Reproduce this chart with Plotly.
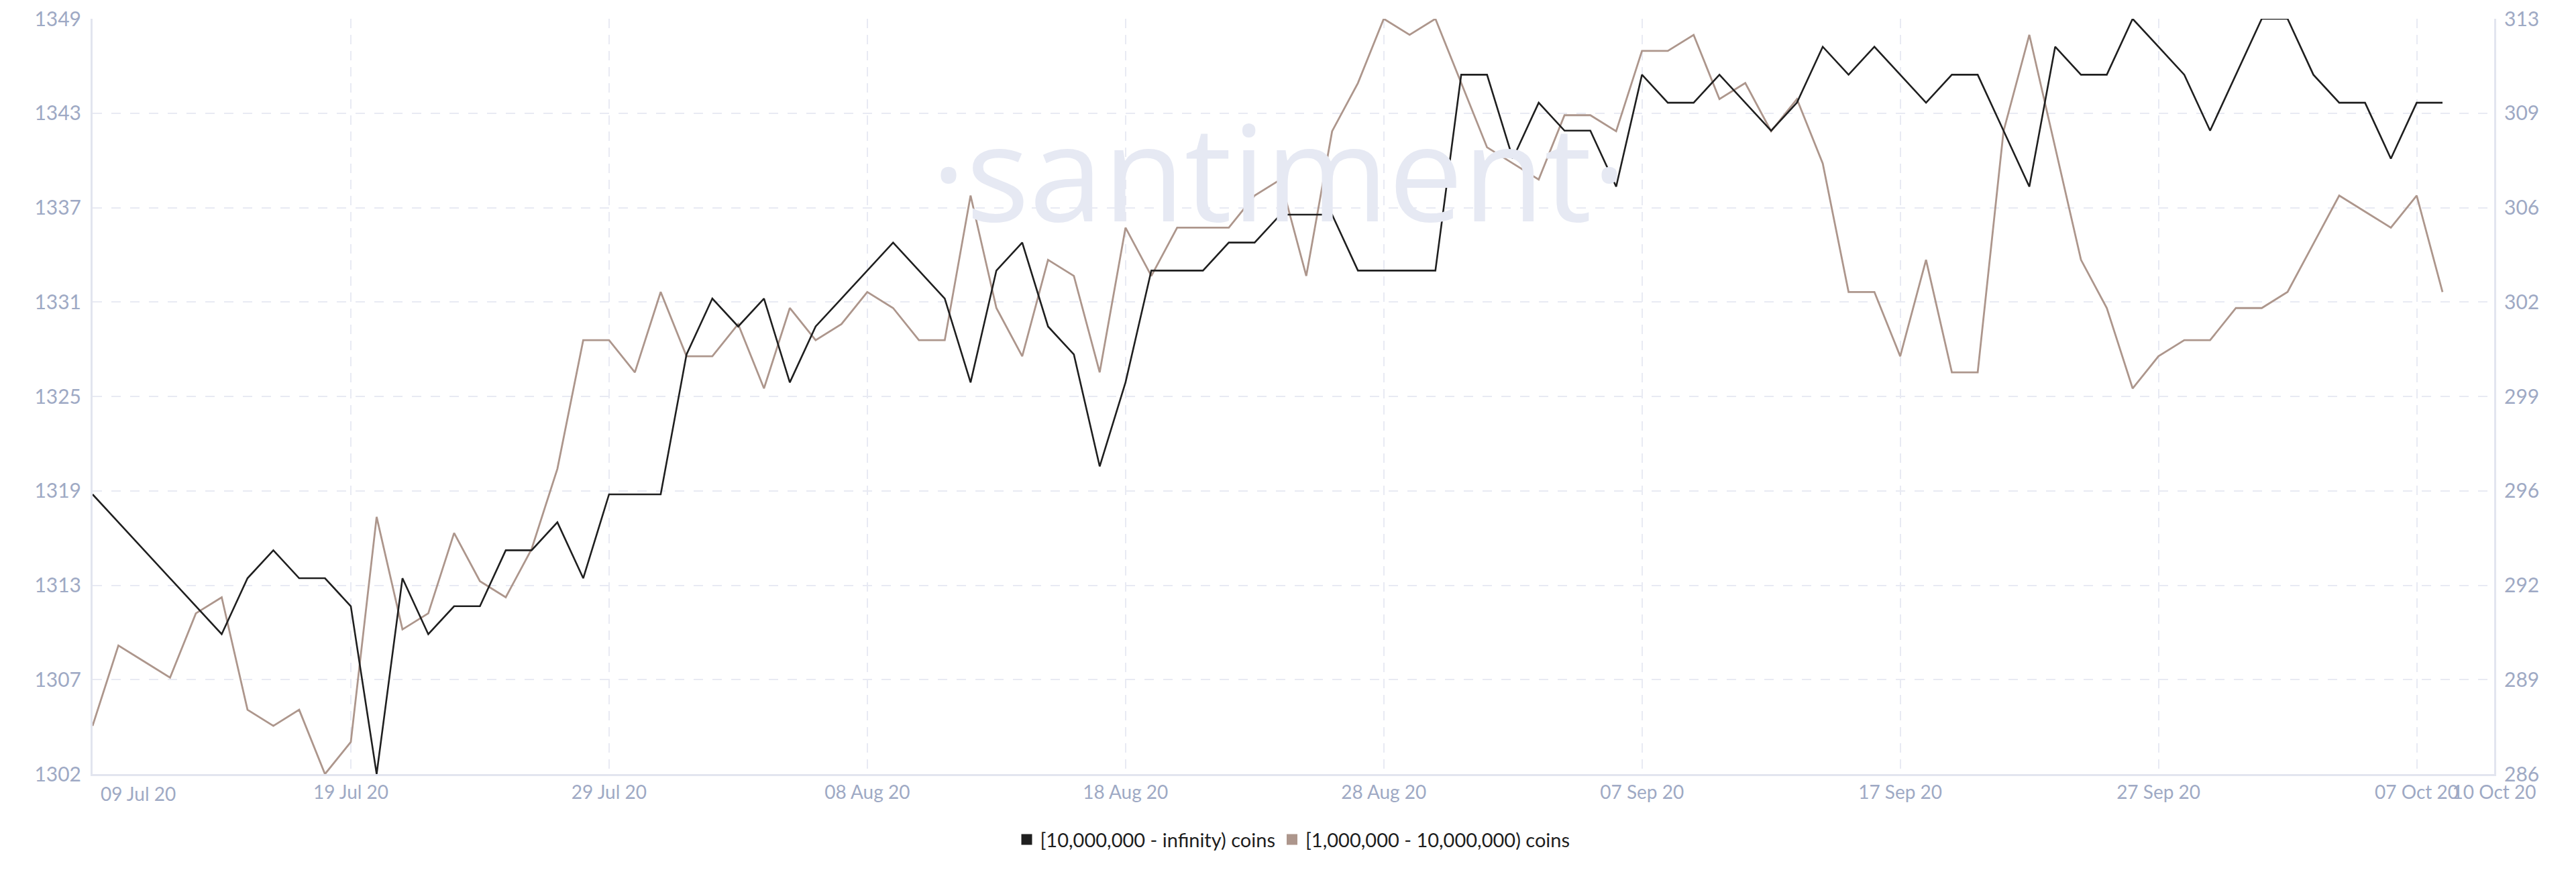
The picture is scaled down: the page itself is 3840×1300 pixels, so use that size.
import datetime as dt
import plotly.graph_objects as go

start = dt.date(2020, 7, 9)

# [10,000,000 - infinity) coins  (right axis)
big_holders = [296, 295, 294, 293, 292, 291, 293, 294, 293, 293,
               292, 286, 293, 291, 292, 292, 294, 294, 295, 293,
               296, 296, 296, 301, 303, 302, 303, 300, 302, 303,
               304, 305, 304, 303, 300, 304, 305, 302, 301, 297,
               300, 304, 304, 304, 305, 305, 306, 306, 306, 304,
               304, 304, 304, 311, 311, 308, 310, 309, 309, 307,
               311, 310, 310, 311, 310, 309, 310, 312, 311, 312,
               311, 310, 311, 311, 309, 307, 312, 311, 311, 313,
               312, 311, 309, 311, 313, 313, 311, 310, 310, 308,
               310, 310]

# [1,000,000 - 10,000,000) coins  (left axis)
mid_holders = [1305, 1310, 1309, 1308, 1312, 1313, 1306, 1305, 1306, 1302,
               1304, 1318, 1311, 1312, 1317, 1314, 1313, 1316, 1321, 1329,
               1329, 1327, 1332, 1328, 1328, 1330, 1326, 1331, 1329, 1330,
               1332, 1331, 1329, 1329, 1338, 1331, 1328, 1334, 1333, 1327,
               1336, 1333, 1336, 1336, 1336, 1338, 1339, 1333, 1342, 1345,
               1349, 1348, 1349, 1345, 1341, 1340, 1339, 1343, 1343, 1342,
               1347, 1347, 1348, 1344, 1345, 1342, 1344, 1340, 1332, 1332,
               1328, 1334, 1327, 1327, 1342, 1348, 1341, 1334, 1331, 1326,
               1328, 1329, 1329, 1331, 1331, 1332, 1335, 1338, 1337, 1336,
               1338, 1332]

dates = [start + dt.timedelta(days=i) for i in range(len(big_holders))]

series_names = ["[10,000,000 - infinity) coins", "[1,000,000 - 10,000,000) coins"]
colors = ["#1f1f1f", "#ad968c"]

x_tick_dates = ["2020-07-09", "2020-07-19", "2020-07-29", "2020-08-08", "2020-08-18",
                "2020-08-28", "2020-09-07", "2020-09-17", "2020-09-27", "2020-10-07", "2020-10-10"]
x_tick_text = ["09 Jul 20", "19 Jul 20", "29 Jul 20", "08 Aug 20", "18 Aug 20",
               "28 Aug 20", "07 Sep 20", "17 Sep 20", "27 Sep 20", "07 Oct 20", "10 Oct 20"]
# the first label is drawn left-aligned at its tick (as in the reference)
x_tick_text_display = [""] + x_tick_text[1:]

left_min, left_max = 1302, 1349
left_tick_text = ["1302", "1307", "1313", "1319", "1325", "1331", "1337", "1343", "1349"]
right_min, right_max = 286, 313
right_tick_text = ["286", "289", "292", "296", "299", "302", "306", "309", "313"]

left_tick_vals = [left_min + (left_max - left_min) * k / 8 for k in range(9)]
right_tick_vals = [right_min + (right_max - right_min) * k / 8 for k in range(9)]

tick_color = "#9ea9c4"
grid_color = "#e8eaf3"
axis_color = "#e2e5ef"
font_family = "Lato, Open Sans, sans-serif"

fig = go.Figure()

fig.add_trace(go.Scatter(x=dates, y=mid_holders, mode="lines", name=series_names[1],
                         line=dict(color=colors[1], width=2.8), yaxis="y", showlegend=False))
fig.add_trace(go.Scatter(x=dates, y=big_holders, mode="lines", name=series_names[0],
                         line=dict(color=colors[0], width=2.6), yaxis="y2", showlegend=False))

# legend entries with square swatches
for name, col in zip(series_names, colors):
    fig.add_trace(go.Scatter(x=[None], y=[None], mode="markers", name=name,
                             marker=dict(symbol="square", size=22, color=col), showlegend=True))

fig.add_annotation(text="·santiment·", xref="paper", yref="paper", x=0.494, y=0.80,
                   showarrow=False, font=dict(family="Open Sans, sans-serif", size=198, color="#e6e9f3"),
                   xanchor="center", yanchor="middle")

fig.add_annotation(text=x_tick_text[0], xref="x", yref="paper", x=x_tick_dates[0], y=0,
                   xanchor="left", yanchor="top", xshift=10, yshift=-10, showarrow=False,
                   font=dict(family=font_family, size=28, color=tick_color))

fig.update_layout(
    width=3840, height=1300,
    margin=dict(l=130, r=130, t=20, b=154, autoexpand=False),
    paper_bgcolor="white", plot_bgcolor="white",
    font=dict(family=font_family, color=tick_color, size=28),
    legend=dict(orientation="h", x=0.5, xanchor="center", y=-0.064, yanchor="top",
                font=dict(family=font_family, size=29, color="#1e1e1e"),
                itemsizing="trace", traceorder="normal", itemwidth=30),
    xaxis=dict(type="date", range=["2020-07-09", "2020-10-10"],
               tickvals=x_tick_dates, ticktext=x_tick_text_display, tickangle=0,
               automargin=False, ticklabeloverflow="allow",
               showgrid=True, gridcolor=grid_color, griddash="14px,10px", gridwidth=1.5,
               showline=True, linecolor=axis_color, linewidth=3,
               ticks="", tickfont=dict(size=28, color=tick_color), zeroline=False),
    yaxis=dict(range=[left_min, left_max], tickvals=left_tick_vals, ticktext=left_tick_text,
               automargin=False, ticklabeloverflow="allow",
               showgrid=True, gridcolor=grid_color, griddash="14px,14px", gridwidth=1.5,
               showline=True, linecolor=axis_color, linewidth=3, ticks="",
               tickfont=dict(size=30, color=tick_color), zeroline=False, ticklabelstandoff=8),
    yaxis2=dict(range=[right_min, right_max], tickvals=right_tick_vals, ticktext=right_tick_text,
                overlaying="y", side="right", showgrid=False, automargin=False,
                ticklabeloverflow="allow",
                showline=True, linecolor=axis_color, linewidth=3, ticks="",
                tickfont=dict(size=30, color=tick_color), zeroline=False, ticklabelstandoff=6),
)

fig.write_html("out.html")
